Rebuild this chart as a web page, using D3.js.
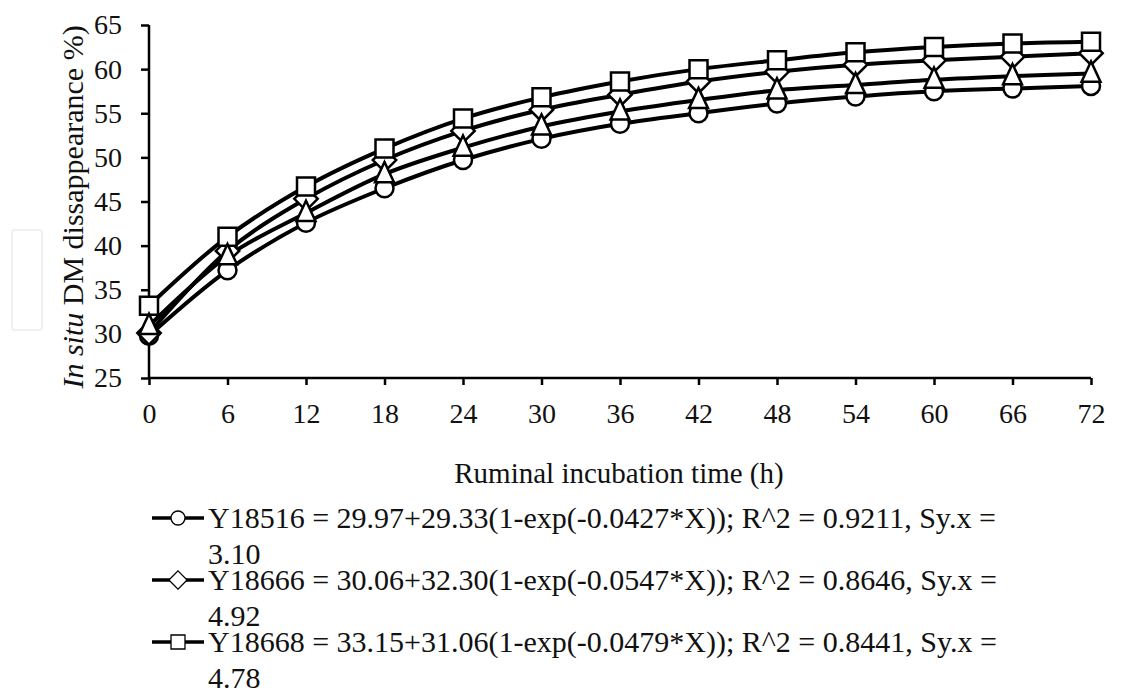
<!DOCTYPE html>
<html>
<head>
<meta charset="utf-8">
<script src="https://cdn.jsdelivr.net/npm/d3@7"></script>
<style>
  html, body { margin: 0; padding: 0; background: #fff; }
  #chart text { font-family: "Liberation Serif", Tinos, "Times New Roman", Times, serif; fill: #111; }
</style>
</head>
<body>
<svg id="chart" width="1143" height="690"></svg>
<script>
(function() {
  // incubation times (h)
  var hours = [0, 6, 12, 18, 24, 30, 36, 42, 48, 54, 60, 66, 72];
  var yTicks = [25, 30, 35, 40, 45, 50, 55, 60, 65];

  // values
  var y18516 = [29.8, 37.2, 42.6, 46.5, 49.7, 52.1, 53.8, 55.0, 56.1, 56.9, 57.5, 57.8, 58.1];
  var y18666 = [30.1, 39.4, 45.3, 49.7, 53.0, 55.4, 57.1, 58.6, 59.7, 60.5, 61.0, 61.4, 61.8];
  var y18668 = [33.2, 41.0, 46.7, 51.0, 54.4, 56.8, 58.6, 60.0, 61.0, 61.9, 62.5, 62.9, 63.1];
  var fourth = [30.9, 38.8, 43.7, 48.1, 51.1, 53.5, 55.2, 56.5, 57.6, 58.2, 58.8, 59.2, 59.5];

  var legendText = [
    ['Y18516 = 29.97+29.33(1-exp(-0.0427*X)); R^2 = 0.9211, Sy.x =', '3.10'],
    ['Y18666 = 30.06+32.30(1-exp(-0.0547*X)); R^2 = 0.8646, Sy.x =', '4.92'],
    ['Y18668 = 33.15+31.06(1-exp(-0.0479*X)); R^2 = 0.8441, Sy.x =', '4.78']
  ];

  var series = [
    { values: y18516, shape: 'circle' },
    { values: y18666, shape: 'diamond' },
    { values: y18668, shape: 'square' },
    { values: fourth, shape: 'triangle' }
  ];

  var svg = d3.select('#chart');
  var x = d3.scaleLinear().domain([0, 72]).range([149, 1091]);
  var y = d3.scaleLinear().domain([25, 65]).range([378, 25]);

  // faint watermark bit
  svg.append('rect').attr('x', 12).attr('y', 230).attr('width', 30).attr('height', 100)
    .attr('rx', 3).attr('fill', 'none').attr('stroke', '#f0f0f0').attr('stroke-width', 2);

  var yAxis = svg.append('g').attr('transform', 'translate(' + x(0) + ',0)')
    .call(d3.axisLeft(y).tickValues(yTicks).tickSize(8).tickPadding(19));
  var xAxis = svg.append('g').attr('transform', 'translate(0,' + y(25) + ')')
    .call(d3.axisBottom(x).tickValues(hours).tickSize(7).tickPadding(18));
  [xAxis, yAxis].forEach(function(a) {
    a.attr('font-family', null).attr('font-size', null);
    a.selectAll('path, line').attr('stroke', '#000').attr('stroke-width', 2.5);
    a.select('path').attr('d', a === xAxis ? 'M' + x(0) + ',0H' + x(72) : 'M0,' + y(65) + 'V' + y(25));
    a.selectAll('text').attr('font-size', 28).attr('fill', '#111');
  });

  svg.append('text').attr('x', (x(0) + x(72)) / 2 - 1).attr('y', 483)
    .attr('text-anchor', 'middle').attr('font-size', 29).text('Ruminal incubation time (h)');

  var yt = svg.append('text').attr('transform', 'translate(83,207) rotate(-90)')
    .attr('text-anchor', 'middle').attr('font-size', 30);
  yt.append('tspan').attr('font-style', 'italic').text('In situ');
  yt.append('tspan').text(' DM dissappearance %)');

  var line = d3.line().x(function(d, i) { return x(hours[i]); }).y(function(d) { return y(d); })
    .curve(d3.curveCatmullRom.alpha(0.5));

  svg.append('g').selectAll('path').data(series).enter().append('path')
    .attr('d', function(s) { return line(s.values); })
    .attr('fill', 'none').attr('stroke', '#000').attr('stroke-width', 4);

  function markerPath(shape, s) {
    if (shape === 'circle') return d3.symbol(d3.symbolCircle, Math.PI * s * s)();
    if (shape === 'square') return 'M' + (-s) + ',' + (-s) + 'h' + 2 * s + 'v' + 2 * s + 'h' + (-2 * s) + 'Z';
    if (shape === 'diamond') return 'M0,' + (-s * 1.3) + 'L' + s * 1.3 + ',0L0,' + s * 1.3 + 'L' + (-s * 1.3) + ',0Z';
    return 'M0,' + (-s * 1.35) + 'L' + s * 1.05 + ',' + s * 0.9 + 'L' + (-s * 1.05) + ',' + s * 0.9 + 'Z';
  }

  series.forEach(function(s) {
    svg.append('g').selectAll('path').data(s.values).enter().append('path')
      .attr('transform', function(d, i) { return 'translate(' + x(hours[i]) + ',' + y(d) + ')'; })
      .attr('d', markerPath(s.shape, 9))
      .attr('fill', '#fff').attr('stroke', '#000').attr('stroke-width', 2.5);
  });

  // legend
  var legend = svg.append('g');
  var legendY = [518, 580, 642];
  legendText.forEach(function(t, i) {
    var g = legend.append('g').attr('transform', 'translate(0,' + legendY[i] + ')');
    g.append('line').attr('x1', 152).attr('x2', 204).attr('y1', 0).attr('y2', 0)
      .attr('stroke', '#000').attr('stroke-width', 3.5);
    g.append('path').attr('transform', 'translate(178,0)').attr('d', markerPath(series[i].shape, 7))
      .attr('fill', '#fff').attr('stroke', '#000').attr('stroke-width', 1.3);
    g.append('text').attr('x', 208).attr('y', 10).attr('font-size', 30).text(t[0]);
    g.append('text').attr('x', 208).attr('y', 46).attr('font-size', 30).text(t[1]);
  });
})();
</script>
</body>
</html>
